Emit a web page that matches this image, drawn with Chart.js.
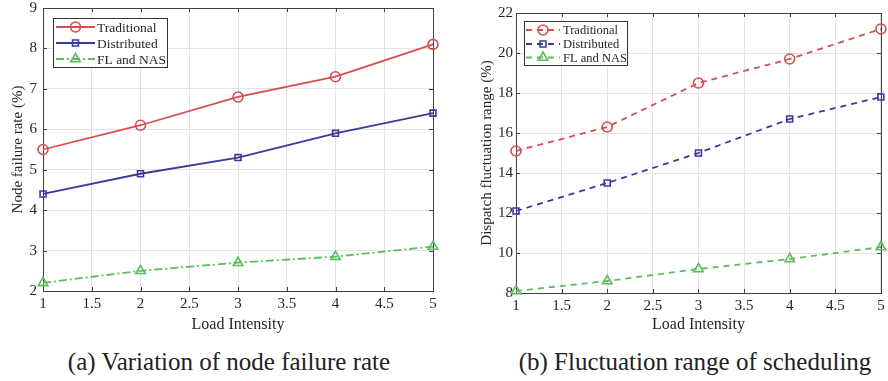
<!DOCTYPE html>
<html>
<head>
<meta charset="utf-8">
<script src="https://cdn.jsdelivr.net/npm/chart.js@4.4.1/dist/chart.umd.min.js"></script>
<style>
  html, body { margin: 0; padding: 0; background: #fff; }
  body { width: 888px; height: 381px; position: relative; overflow: hidden; }
  .wrap { position: absolute; top: 0; height: 340px; }
  #wa { left: 0; width: 444px; }
  #wb { left: 444px; width: 444px; }
  .cap { position: absolute; top: 346px; font-family: 'Liberation Serif', 'Times New Roman', serif;
         font-size: 25px; color: #222; white-space: nowrap; transform: translateX(-50%); line-height: 32px; }
</style>
</head>
<body>
<div class="wrap" id="wa"><canvas id="ca" width="444" height="340"></canvas></div>
<div class="wrap" id="wb"><canvas id="cb" width="444" height="340"></canvas></div>
<div class="cap" style="left:229px">(a) Variation of node failure rate</div>
<div class="cap" style="left:695px">(b) Fluctuation range of scheduling</div>
<script>
// ---- data ----
const loadIntensity = [1, 2, 3, 4, 5];
const seriesNames = ['Traditional', 'Distributed', 'FL and NAS'];

const failureTraditional = [5.5, 6.1, 6.8, 7.3, 8.1];
const failureDistributed = [4.4, 4.9, 5.3, 5.9, 6.4];
const failureFLNAS = [2.2, 2.5, 2.7, 2.85, 3.1];

const fluctTraditional = [15.1, 16.3, 18.5, 19.7, 21.2];
const fluctDistributed = [12.1, 13.5, 15.0, 16.7, 17.8];
const fluctFLNAS = [8.1, 8.6, 9.2, 9.7, 10.3];

const xTicks = [1, 1.5, 2, 2.5, 3, 3.5, 4, 4.5, 5];
const yTicksA = [2, 3, 4, 5, 6, 7, 8, 9];
const yTicksB = [8, 10, 12, 14, 16, 18, 20, 22];

const xTitle = 'Load Intensity';
const yTitleA = 'Node failure rate (%)';
const yTitleB = 'Dispatch fluctuation range (%)';

// ---- styles ----
const FONT = "'Liberation Serif', 'Times New Roman', serif";
const RED = '#d44e4e';
const BLUE = '#3a3a9e';
const GREEN = '#5cbd5c';
const TXT = '#262626';

function pts(xs, ys) { return xs.map((x, i) => ({ x: x, y: ys[i] })); }

function makeDatasets(vals, dashes) {
  const colors = [RED, BLUE, GREEN];
  const styles = ['circle', 'rect', 'triangle'];
  const radii = [5, 4.2, 5.5];
  return vals.map((v, i) => ({
    label: seriesNames[i],
    data: pts(loadIntensity, v),
    borderColor: colors[i],
    backgroundColor: 'rgba(0,0,0,0)',
    borderWidth: 1.8,
    borderDash: dashes[i],
    pointStyle: styles[i],
    pointRadius: radii[i],
    pointBorderWidth: 1.6,
    pointBorderColor: colors[i],
    pointBackgroundColor: 'rgba(0,0,0,0)',
    tension: 0,
    clip: false
  }));
}

const framePlugin = {
  id: 'frame',
  beforeDatasetsDraw(chart) {
    const { ctx, chartArea: a, scales } = chart;
    ctx.save();
    ctx.strokeStyle = '#404040';
    ctx.lineWidth = 1;
    ctx.strokeRect(Math.round(a.left) + 0.5, Math.round(a.top) + 0.5,
                   Math.round(a.right - a.left), Math.round(a.bottom - a.top));
    const L = 4;
    ctx.beginPath();
    scales.x.ticks.forEach(t => {
      const px = Math.round(scales.x.getPixelForValue(t.value)) + 0.5;
      ctx.moveTo(px, a.bottom); ctx.lineTo(px, a.bottom - L);
      ctx.moveTo(px, a.top); ctx.lineTo(px, a.top + L);
    });
    scales.y.ticks.forEach(t => {
      const py = Math.round(scales.y.getPixelForValue(t.value)) + 0.5;
      ctx.moveTo(a.left, py); ctx.lineTo(a.left + L, py);
      ctx.moveTo(a.right, py); ctx.lineTo(a.right - L, py);
    });
    ctx.stroke();
    ctx.restore();
  }
};

const legendPlugin = {
  id: 'boxLegend',
  afterDatasetsDraw(chart, args, opts) {
    const { ctx } = chart;
    const o = opts;
    ctx.save();
    ctx.fillStyle = '#fff';
    ctx.fillRect(o.x, o.y, o.w, o.h);
    ctx.strokeStyle = '#333';
    ctx.lineWidth = 1;
    ctx.strokeRect(o.x + 0.5, o.y + 0.5, o.w, o.h);
    chart.data.datasets.forEach((ds, i) => {
      const cy = o.rows[i];
      ctx.strokeStyle = ds.borderColor;
      ctx.lineWidth = 1.8;
      ctx.setLineDash(ds.borderDash || []);
      ctx.beginPath();
      ctx.moveTo(o.lx0, cy); ctx.lineTo(o.lx1, cy);
      ctx.stroke();
      ctx.setLineDash([]);
      ctx.lineWidth = 1.6;
      ctx.fillStyle = 'rgba(0,0,0,0)';
      Chart.helpers.drawPoint(ctx, { pointStyle: ds.pointStyle, radius: ds.pointRadius, borderWidth: 1.6, rotation: 0 },
        (o.lx0 + o.lx1) / 2, cy);
      ctx.fillStyle = TXT;
      ctx.font = o.fontSize + 'px ' + FONT;
      ctx.textBaseline = 'middle';
      ctx.textAlign = 'left';
      ctx.fillText(ds.label, o.tx, cy + 1);
    });
    ctx.restore();
  }
};

function makeChart(id, datasets, yTicks, yMin, yMax, yTitle, cfg) {
  return new Chart(document.getElementById(id), {
    type: 'line',
    data: { datasets: datasets },
    plugins: [framePlugin, legendPlugin],
    options: {
      responsive: false,
      animation: false,
      layout: { padding: { top: cfg.top, right: cfg.right, left: 0, bottom: 0 } },
      plugins: {
        legend: { display: false },
        tooltip: { enabled: false },
        boxLegend: cfg.legend
      },
      scales: {
        x: {
          type: 'linear', min: 1, max: 5,
          afterBuildTicks: s => { s.ticks = xTicks.map(v => ({ value: v })); },
          afterFit: s => { s.height = cfg.xHeight; s.paddingLeft = 0; s.paddingRight = 0; },
          ticks: { font: { family: FONT, size: 15 }, color: TXT, padding: 4, maxRotation: 0, autoSkip: false,
                   callback: v => String(v) },
          grid: { color: '#e3e3e3', drawTicks: false, lineWidth: 1 },
          border: { display: false },
          title: { display: true, text: xTitle, font: { family: FONT, size: 16 }, color: TXT,
                   padding: { top: 0, bottom: cfg.xTitlePad } }
        },
        y: {
          type: 'linear', min: yMin, max: yMax,
          afterBuildTicks: s => { s.ticks = yTicks.map(v => ({ value: v })); },
          afterFit: s => { s.width = cfg.yWidth; s.paddingTop = 0; s.paddingBottom = 0; },
          ticks: { font: { family: FONT, size: 15 }, color: TXT, padding: cfg.yPad, autoSkip: false,
                   callback: v => String(v) },
          grid: { color: '#e3e3e3', drawTicks: false, lineWidth: 1 },
          border: { display: false },
          title: { display: true, text: yTitle, font: { family: FONT, size: 15 }, color: TXT,
                   padding: { top: cfg.yTitlePad, bottom: 0 } }
        }
      }
    }
  });
}

makeChart('ca',
  makeDatasets([failureTraditional, failureDistributed, failureFLNAS], [[], [], [8, 3, 2, 3]]),
  yTicksA, 2, 9, yTitleA,
  { top: 8, right: 11, xHeight: 49, yWidth: 43, yPad: 6, xTitlePad: 5.5, yTitlePad: 9,
    legend: { x: 53, y: 18, w: 114, h: 49, rows: [27, 43, 59], lx0: 56, lx1: 95, tx: 97, fontSize: 13.5 } });

makeChart('cb',
  makeDatasets([fluctTraditional, fluctDistributed, fluctFLNAS], [[6, 5], [6, 5], [6, 5]]),
  yTicksB, 8, 22, yTitleB,
  { top: 13, right: 5, xHeight: 47, yWidth: 72, yPad: 3, xTitlePad: 5.5, yTitlePad: 34,
    legend: { x: 80, y: 21, w: 103, h: 44, rows: [30, 44, 57.5], lx0: 82, lx1: 116, tx: 119, fontSize: 12.5 } });
</script>
</body>
</html>
